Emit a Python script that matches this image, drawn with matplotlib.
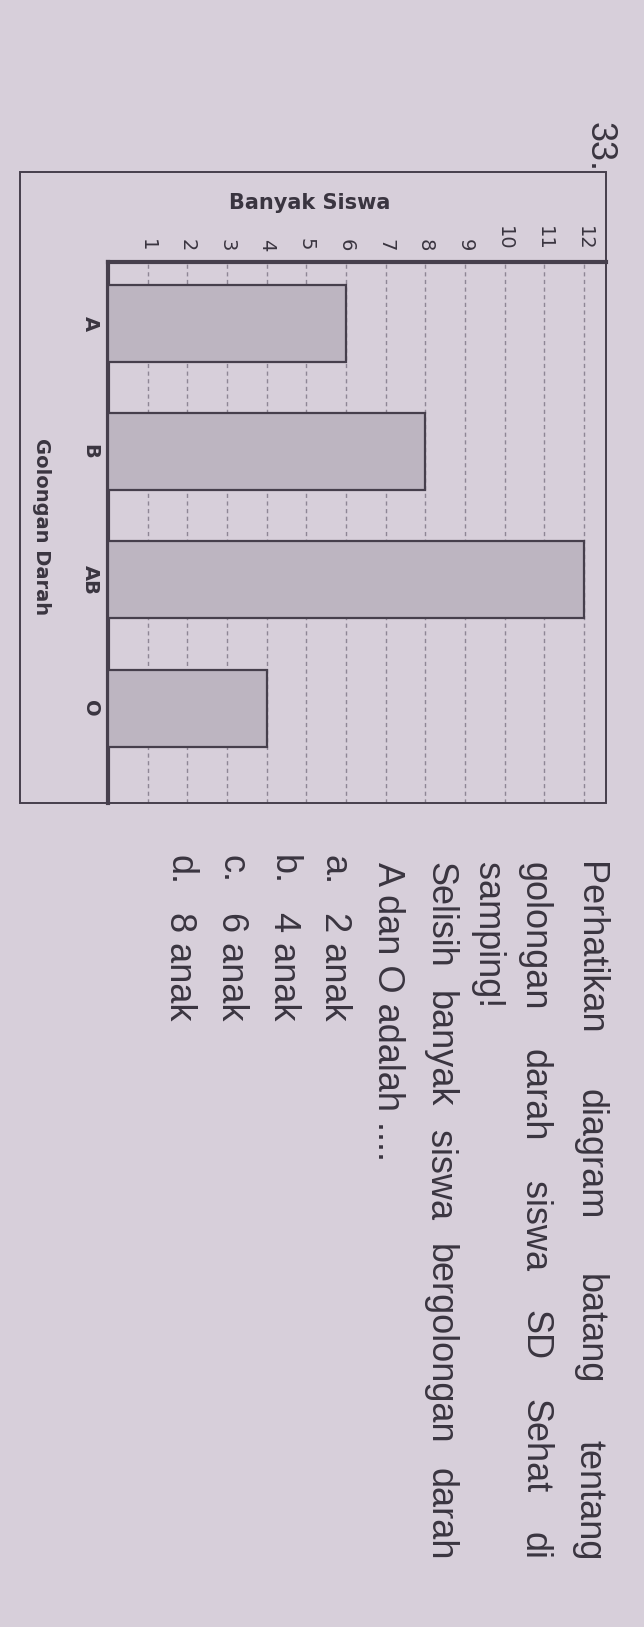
import matplotlib.pyplot as plt
from matplotlib.patches import Rectangle

W, H = 644, 1627

# chart data
categories = ['A', 'B', 'AB', 'O']
counts = [6, 8, 12, 4]
value_ticks = list(range(1, 13))

# question text (page is photographed sideways, so it runs top to bottom)
question_lines = [
    ('Perhatikan diagram batang tentang', True),
    ('golongan darah siswa SD Sehat di', True),
    ('samping!', False),
    ('Selisih banyak siswa bergolongan darah', True),
    ('A dan O adalah ....', False),
]
option_keys = ['a.', 'b.', 'c.', 'd.']
option_texts = ['2 anak', '4 anak', '6 anak', '8 anak']

PAPER = '#d7cfda'
BAR = '#bdb5c1'
INK = '#463f4c'
GRID = '#8e8695'
TEXT = '#3a3540'


def fx(px):
    return px / W


def fy(py):
    return 1 - py / H


fig = plt.figure(figsize=(W / 100, H / 100), dpi=100, facecolor=PAPER)

# outer frame of the chart box
fig.patches.append(Rectangle((fx(20), fy(803)), (606 - 20) / W, (803 - 172) / H,
                             transform=fig.transFigure, fill=False,
                             edgecolor=INK, lw=1.4, zorder=0))

ax = fig.add_axes([fx(108), fy(803), (606 - 108) / W, (803 - 262) / H])
ax.set_facecolor('none')
pos = list(range(len(categories)))
ax.barh(pos, counts, height=0.6, color=BAR, edgecolor=INK, lw=1.6, zorder=3)
ax.set_xlim(0, 12.55)
ax.set_ylim(3.74, -0.48)

ax.set_xticks(value_ticks)
ax.set_xticklabels([str(v) for v in value_ticks], family='DejaVu Sans',
                   fontsize=14, color=TEXT)
ax.xaxis.tick_top()
ax.tick_params(axis='x', length=0, pad=8, labelrotation=-90)
ax.set_yticks(pos)
ax.set_yticklabels(categories, family='DejaVu Sans', fontsize=14,
                   fontweight='bold', color=TEXT, va='center')
ax.tick_params(axis='y', length=0, pad=6, labelrotation=-90)

ax.grid(axis='x', linestyle=(0, (3, 2.5)), color=GRID, lw=1.0)
ax.set_axisbelow(True)
for side in ['right', 'bottom']:
    ax.spines[side].set_visible(False)
for side in ['top', 'left']:
    ax.spines[side].set_linewidth(3.0)
    ax.spines[side].set_color(INK)

fig.text(fx(310), fy(203), 'Banyak Siswa', family='DejaVu Sans', fontsize=15,
         fontweight='bold', color=TEXT, ha='center', va='center')
fig.text(fx(41), fy(527), 'Golongan Darah', family='DejaVu Sans', fontsize=14,
         fontweight='bold', color=TEXT, ha='center', va='center', rotation=-90)

body = dict(family='Liberation Sans', fontsize=26, color=TEXT, rotation=-90,
            rotation_mode='anchor', ha='left', va='baseline')
fig.text(fx(590), fy(122), '33.', **body)

renderer = fig.canvas.get_renderer()
start, end = 862, 1560
base_x = [580, 525, 478, 430, 378]
for (line, justify), bx in zip(question_lines, base_x):
    if not justify:
        fig.text(fx(bx), fy(start), line, **body)
        continue
    words = [fig.text(fx(bx), fy(start), w, **body) for w in line.split()]
    lens = [t.get_window_extent(renderer).height for t in words]
    gap = (end - start - sum(lens)) / (len(words) - 1)
    y = start
    for t, ln in zip(words, lens):
        t.set_position((fx(bx), fy(y)))
        y += ln + gap

for key, txt, bx in zip(option_keys, option_texts, [325, 274, 222, 170]):
    fig.text(fx(bx), fy(855), key, **body)
    fig.text(fx(bx), fy(912), txt, **body)

fig.savefig('out.png', dpi=100, facecolor=PAPER)
